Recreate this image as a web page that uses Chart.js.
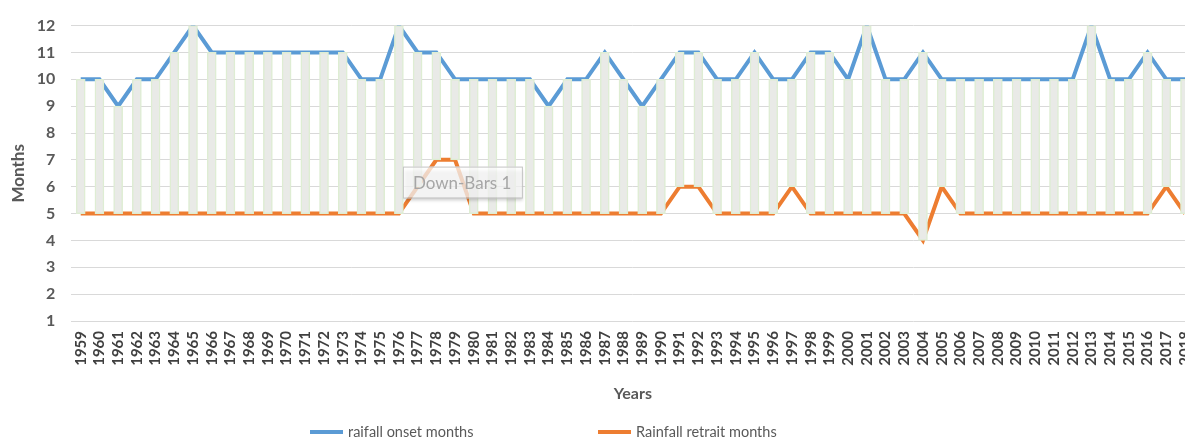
<!DOCTYPE html>
<html>
<head>
<meta charset="utf-8">
<script src="https://cdn.jsdelivr.net/npm/chart.js@4.4.1/dist/chart.umd.min.js"></script>
<style>
  html, body { margin: 0; padding: 0; background: #ffffff; overflow: hidden; }
  #wrap { width: 1185px; height: 439px; overflow: hidden; position: relative; }
  canvas { display: block; }
</style>
</head>
<body>
<div id="wrap"><canvas id="chart" width="1213" height="439"></canvas></div>
<script>
// Years of record
const years = [
  '1959','1960','1961','1962','1963','1964','1965','1966','1967','1968',
  '1969','1970','1971','1972','1973','1974','1975','1976','1977','1978',
  '1979','1980','1981','1982','1983','1984','1985','1986','1987','1988',
  '1989','1990','1991','1992','1993','1994','1995','1996','1997','1998',
  '1999','2000','2001','2002','2003','2004','2005','2006','2007','2008',
  '2009','2010','2011','2012','2013','2014','2015','2016','2017','2018'
];

// Month of rainfall onset for each year
const onsetMonths = [
  10,10, 9,10,10,11,12,11,11,11,
  11,11,11,11,11,10,10,12,11,11,
  10,10,10,10,10, 9,10,10,11,10,
   9,10,11,11,10,10,11,10,10,11,
  11,10,12,10,10,11,10,10,10,10,
  10,10,10,10,12,10,10,11,10,10
];

// Month of rainfall retreat for each year
const retreatMonths = [
  5,5,5,5,5,5,5,5,5,5,
  5,5,5,5,5,5,5,5,6,7,
  7,5,5,5,5,5,5,5,5,5,
  5,5,6,6,5,5,5,5,6,5,
  5,5,5,5,5,4,6,5,5,5,
  5,5,5,5,5,5,5,5,6,5
];

const monthAxisMin = 1;
const monthAxisMax = 12;

const onsetLabel = 'raifall onset months';
const retreatLabel = 'Rainfall retrait months';
const barsLabel = 'Down-Bars 1';

const GREY = '#595959';

// Legend drawn under the axis title
const bottomLegend = {
  id: 'bottomLegend',
  afterDraw(chart) {
    const ctx = chart.ctx;
    const items = chart.data.datasets.filter(d => d.type === 'line');
    const xs = [310, 598];
    const y = 432;
    ctx.save();
    ctx.font = '14.5px Lato';
    ctx.fillStyle = GREY;
    ctx.textBaseline = 'middle';
    items.forEach((ds, i) => {
      ctx.strokeStyle = ds.borderColor;
      ctx.lineWidth = 4;
      ctx.beginPath();
      ctx.moveTo(xs[i], y);
      ctx.lineTo(xs[i] + 33, y);
      ctx.stroke();
      ctx.fillText(ds.label, xs[i] + 38, y);
    });
    ctx.restore();
  }
};

// Hover-style label box for the down-bars series
const barsCallout = {
  id: 'barsCallout',
  afterDatasetsDraw(chart) {
    const ctx = chart.ctx;
    const xs = chart.scales.x, ys = chart.scales.y;
    const left = xs.getPixelForValue(years.indexOf('1976')) + 4;
    const top = ys.getPixelForValue(6.75);
    const w = 119, h = 31;
    ctx.save();
    ctx.shadowColor = 'rgba(0,0,0,0.25)';
    ctx.shadowBlur = 3;
    ctx.shadowOffsetX = 1;
    ctx.shadowOffsetY = 3;
    ctx.fillStyle = 'rgba(255,255,255,0.72)';
    ctx.fillRect(left, top, w, h);
    ctx.shadowColor = 'transparent';
    ctx.strokeStyle = '#c4c4c4';
    ctx.lineWidth = 1;
    ctx.strokeRect(left + 0.5, top + 0.5, w, h);
    ctx.fillStyle = '#a6a6a6';
    ctx.font = '17px Lato';
    ctx.textBaseline = 'middle';
    ctx.fillText(barsLabel, left + 10, top + h / 2 + 1);
    ctx.restore();
  }
};

new Chart(document.getElementById('chart'), {
  data: {
    labels: years,
    datasets: [
      {
        type: 'bar',
        label: barsLabel,
        data: years.map((_, i) => [retreatMonths[i], onsetMonths[i]]),
        backgroundColor: '#e9eae7',
        borderColor: '#deedd3',
        borderWidth: 1.5,
        borderSkipped: false,
        barThickness: 9,
        order: 0
      },
      {
        type: 'line',
        label: onsetLabel,
        data: onsetMonths,
        borderColor: '#5b9bd5',
        borderWidth: 4,
        pointRadius: 0,
        tension: 0,
        order: 1
      },
      {
        type: 'line',
        label: retreatLabel,
        data: retreatMonths,
        borderColor: '#ed7d31',
        borderWidth: 4,
        pointRadius: 0,
        tension: 0,
        order: 2
      }
    ]
  },
  options: {
    responsive: false,
    animation: false,
    layout: { padding: { top: 19, bottom: 36, left: 0, right: 0 } },
    plugins: {
      legend: { display: false },
      tooltip: { enabled: false }
    },
    scales: {
      x: {
        offset: true,
        grid: { display: false, drawTicks: false },
        border: { display: false },
        ticks: {
          autoSkip: false,
          minRotation: 90,
          maxRotation: 90,
          padding: 10,
          color: '#404040',
          font: { family: 'Lato', weight: 'bold', size: 15 }
        },
        title: {
          display: true,
          text: 'Years',
          color: GREY,
          padding: { top: 0, bottom: 0 },
          font: { family: 'Lato', weight: 'bold', size: 16 }
        },
        afterFit(scale) { scale.height = 82; }
      },
      y: {
        min: monthAxisMin,
        max: monthAxisMax,
        ticks: {
          stepSize: 1,
          padding: 16,
          color: GREY,
          font: { family: 'Lato', weight: 'bold', size: 16 }
        },
        grid: { color: '#d9d9d9', lineWidth: 1, drawTicks: false },
        border: { display: false },
        title: {
          display: true,
          text: 'Months',
          color: GREY,
          padding: { top: 8, bottom: 0 },
          font: { family: 'Lato', weight: 'bold', size: 17 }
        },
        afterFit(scale) { scale.width = 71.35; }
      }
    }
  },
  plugins: [barsCallout, bottomLegend]
});
</script>
</body>
</html>
